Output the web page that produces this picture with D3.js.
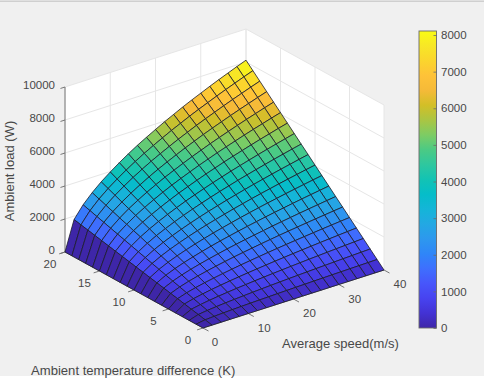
<!DOCTYPE html>
<html>
<head>
<meta charset="utf-8">
<script src="https://cdn.jsdelivr.net/npm/d3@7"></script>
<style>
html, body { margin: 0; padding: 0; background: #f0f0f0; }
svg { display: block; }
text { font-family: "Liberation Sans", Arial, sans-serif; fill: #484848; }
</style>
</head>
<body>
<svg id="chart" width="484" height="379"></svg>
<script>
// values
const speeds = d3.range(0, 42, 2);
const tempDiffs = d3.range(0, 21);
// one row per temperature difference, one column per speed
const loads = [
    [0,0,0,0,0,0,0,0,0,0,0,0,0,0,0,0,0,0,0,0,0],
    [0,90,126,154,178,199,218,236,253,269,284,298,312,325,338,350,362,373,384,395,406],
    [0,179,251,307,355,397,436,472,506,537,567,596,623,650,675,699,723,746,768,790,811],
    [0,269,377,461,533,596,654,708,759,806,851,894,935,975,1013,1049,1085,1119,1152,1185,1217],
    [0,358,502,614,710,794,872,944,1012,1074,1134,1192,1246,1300,1350,1398,1446,1492,1536,1580,1622],
    [0,448,628,768,888,993,1090,1180,1265,1343,1418,1490,1558,1625,1688,1748,1808,1865,1920,1975,2028],
    [0,537,753,921,1065,1191,1308,1416,1518,1611,1701,1788,1869,1950,2025,2097,2169,2238,2304,2370,2433],
    [0,627,879,1075,1243,1390,1526,1652,1771,1880,1985,2086,2181,2275,2363,2447,2531,2611,2688,2765,2839],
    [0,716,1004,1228,1420,1588,1744,1888,2024,2148,2268,2384,2492,2600,2700,2796,2892,2984,3072,3160,3244],
    [0,806,1130,1382,1598,1787,1962,2124,2277,2417,2552,2682,2804,2925,3038,3146,3254,3357,3456,3555,3650],
    [0,895,1255,1535,1775,1985,2180,2360,2530,2685,2835,2980,3115,3250,3375,3495,3615,3730,3840,3950,4055],
    [0,985,1381,1689,1953,2184,2398,2596,2783,2954,3119,3278,3427,3575,3713,3845,3977,4103,4224,4345,4461],
    [0,1074,1506,1842,2130,2382,2616,2832,3036,3222,3402,3576,3738,3900,4050,4194,4338,4476,4608,4740,4866],
    [0,1164,1632,1996,2308,2581,2834,3068,3289,3491,3686,3874,4050,4225,4388,4544,4700,4849,4992,5135,5272],
    [0,1253,1757,2149,2485,2779,3052,3304,3542,3759,3969,4172,4361,4550,4725,4893,5061,5222,5376,5530,5677],
    [0,1343,1883,2303,2663,2978,3270,3540,3795,4028,4253,4470,4673,4875,5063,5243,5423,5595,5760,5925,6083],
    [0,1432,2008,2456,2840,3176,3488,3776,4048,4296,4536,4768,4984,5200,5400,5592,5784,5968,6144,6320,6488],
    [0,1522,2134,2610,3018,3375,3706,4012,4301,4565,4820,5066,5296,5525,5738,5942,6146,6341,6528,6715,6894],
    [0,1611,2259,2763,3195,3573,3924,4248,4554,4833,5103,5364,5607,5850,6075,6291,6507,6714,6912,7110,7299],
    [0,1701,2385,2917,3373,3772,4142,4484,4807,5102,5387,5662,5919,6175,6413,6641,6869,7087,7296,7505,7705],
    [0,1790,2510,3070,3550,3970,4360,4720,5060,5370,5670,5960,6230,6500,6750,6990,7230,7460,7680,7900,8110]
];
const speedTicks = [0, 10, 20, 30, 40];
const diffTicks = [0, 5, 10, 15, 20];
const loadTicks = [0, 2000, 4000, 6000, 8000, 10000];
const barTicks = [0, 1000, 2000, 3000, 4000, 5000, 6000, 7000, 8000];
const maxLoad = 8110;

// parula
const parula = ['#3e26a8','#4332d4','#4743f0','#4756fb','#3e6ffe','#2f86f8','#2d98ee','#23a8e3','#14b5d8','#05bdc9','#12c3b4','#2ec79f','#4bca84','#7dcc64','#aac543','#d2bf27','#f5ba38','#fec238','#fbd52d','#f7e726','#f9fb15'];
const colorScale = d3.scaleLinear()
    .domain(parula.map((c, i) => i / (parula.length - 1) * maxLoad))
    .range(parula);

// the 3d box is three skewed linear scales
const ORIGIN_X = 203;
const ORIGIN_Y = 328;
const speedX = d3.scaleLinear().domain([0, 40]).range([0, 181]);
const speedY = d3.scaleLinear().domain([0, 40]).range([0, -58]);
const diffX = d3.scaleLinear().domain([0, 20]).range([0, -138]);
const diffY = d3.scaleLinear().domain([0, 20]).range([0, -76]);
const loadY = d3.scaleLinear().domain([0, 10000]).range([0, -165]);

function project(v, t, z) {
    return [ORIGIN_X + speedX(v) + diffX(t), ORIGIN_Y + speedY(v) + diffY(t) + loadY(z)];
}
const path = pts => 'M' + pts.map(p => p.join(',')).join('L') + 'Z';

const svg = d3.select('#chart');

// picture edge
svg.append('rect').attr('width', 484).attr('height', 379).attr('fill', '#f0f0f0');
svg.append('rect').attr('width', 484).attr('height', 1.5).attr('y', 0.5).attr('fill', '#cfcfcf');
svg.append('rect').attr('width', 484).attr('height', 3).attr('y', 376).attr('fill', '#fff');

// back walls and floor
const walls = [
    [[0, 20, 0], [40, 20, 0], [40, 20, 10000], [0, 20, 10000]],
    [[40, 0, 0], [40, 20, 0], [40, 20, 10000], [40, 0, 10000]],
    [[0, 0, 0], [40, 0, 0], [40, 20, 0], [0, 20, 0]]
];
svg.append('g').selectAll('path').data(walls).enter().append('path')
    .attr('d', d => path(d.map(p => project(...p))))
    .attr('fill', '#fff');

// grid lines
const gridLines = [];
speedTicks.forEach(v => {
    gridLines.push([[v, 20, 0], [v, 20, 10000]]);
    gridLines.push([[v, 0, 0], [v, 20, 0]]);
});
diffTicks.forEach(t => {
    gridLines.push([[40, t, 0], [40, t, 10000]]);
    gridLines.push([[0, t, 0], [40, t, 0]]);
});
loadTicks.forEach(z => {
    gridLines.push([[0, 20, z], [40, 20, z], [40, 0, z]]);
});
svg.append('g').selectAll('path').data(gridLines).enter().append('path')
    .attr('d', d => 'M' + d.map(p => project(...p).join(',')).join('L'))
    .attr('fill', 'none')
    .attr('stroke', '#e6e6e6')
    .attr('stroke-width', 1);

// axis lines + ticks
const axisLines = [
    [[0, 20, 0], [0, 20, 10000]],
    [[0, 0, 0], [0, 20, 0]],
    [[0, 0, 0], [40, 0, 0]]
];
loadTicks.forEach(z => axisLines.push([[0, 20, z], [-1, 20, z]]));
diffTicks.forEach(t => axisLines.push([[0, t, 0], [-1.3, t, 0]]));
speedTicks.forEach(v => axisLines.push([[v, 0, 0], [v, -0.8, 0]]));
svg.append('g').selectAll('path').data(axisLines).enter().append('path')
    .attr('d', d => 'M' + d.map(p => project(...p).join(',')).join('L'))
    .attr('fill', 'none')
    .attr('stroke', '#6a6a6a')
    .attr('stroke-width', 0.9);

// surface cells, far ones first
const cells = d3.cross(d3.range(speeds.length - 1), d3.range(tempDiffs.length - 1))
    .map(([i, j]) => ({ i, j }))
    .sort((a, b) => (b.i + b.j) - (a.i + a.j));

svg.append('g').selectAll('path').data(cells).enter().append('path')
    .attr('d', ({ i, j }) => path([
        project(speeds[i], tempDiffs[j], loads[j][i]),
        project(speeds[i + 1], tempDiffs[j], loads[j][i + 1]),
        project(speeds[i + 1], tempDiffs[j + 1], loads[j + 1][i + 1]),
        project(speeds[i], tempDiffs[j + 1], loads[j + 1][i])
    ]))
    .attr('fill', ({ i, j }) => colorScale(loads[j + 1][i]))
    .attr('stroke', '#1c1c2a')
    .attr('stroke-width', 0.8)
    .attr('stroke-linejoin', 'round');

// tick labels
svg.append('g').selectAll('text').data(loadTicks).enter().append('text')
    .attr('x', d => project(0, 20, d)[0] - 10)
    .attr('y', d => project(0, 20, d)[1] + 2)
    .attr('text-anchor', 'end')
    .attr('font-size', 11.5)
    .text(d => d);

svg.append('g').selectAll('text').data(diffTicks).enter().append('text')
    .attr('x', d => project(0, d, 0)[0] - 15)
    .attr('y', d => project(0, d, 0)[1] + 16)
    .attr('text-anchor', 'middle')
    .attr('font-size', 11.5)
    .text(d => d);

svg.append('g').selectAll('text').data(speedTicks).enter().append('text')
    .attr('x', d => project(d, 0, 0)[0] + (d === 0 ? 12 : 16))
    .attr('y', d => project(d, 0, 0)[1] + 18)
    .attr('text-anchor', 'middle')
    .attr('font-size', 11.5)
    .text(d => d);

// axis titles
svg.append('text').attr('x', 282).attr('y', 348).attr('font-size', 13).text('Average speed(m/s)');
svg.append('text').attr('x', 31).attr('y', 375).attr('font-size', 13.1).text('Ambient temperature difference (K)');
svg.append('text')
    .attr('transform', 'translate(14,171) rotate(-90)')
    .attr('text-anchor', 'middle')
    .attr('font-size', 13)
    .text('Ambient load (W)');

// colorbar
const barScale = d3.scaleLinear().domain([0, maxLoad]).range([328, 31]);
const grad = svg.append('defs').append('linearGradient')
    .attr('id', 'parulaBar')
    .attr('x1', 0).attr('x2', 0).attr('y1', 1).attr('y2', 0);
grad.selectAll('stop').data(parula).enter().append('stop')
    .attr('offset', (d, i) => i / (parula.length - 1))
    .attr('stop-color', d => d);
svg.append('rect')
    .attr('x', 419).attr('y', barScale(maxLoad))
    .attr('width', 17.5).attr('height', barScale(0) - barScale(maxLoad))
    .attr('fill', 'url(#parulaBar)')
    .attr('stroke', '#6a6a6a')
    .attr('stroke-width', 0.9);

const barAxis = svg.append('g')
    .attr('transform', 'translate(436.5,0)')
    .call(d3.axisRight(barScale).tickValues(barTicks).tickSizeOuter(0).tickSize(0).tickPadding(4.5).tickFormat(d => d));
barAxis.select('.domain').remove();
barAxis.selectAll('.tick text').attr('font-size', 11.5).attr('font-family', '"Liberation Sans", Arial, sans-serif').attr('fill', '#484848');
barAxis.selectAll('.tick').append('line').attr('x1', -3).attr('x2', 0).attr('stroke', '#6a6a6a').attr('stroke-width', 0.8);
</script>
</body>
</html>
